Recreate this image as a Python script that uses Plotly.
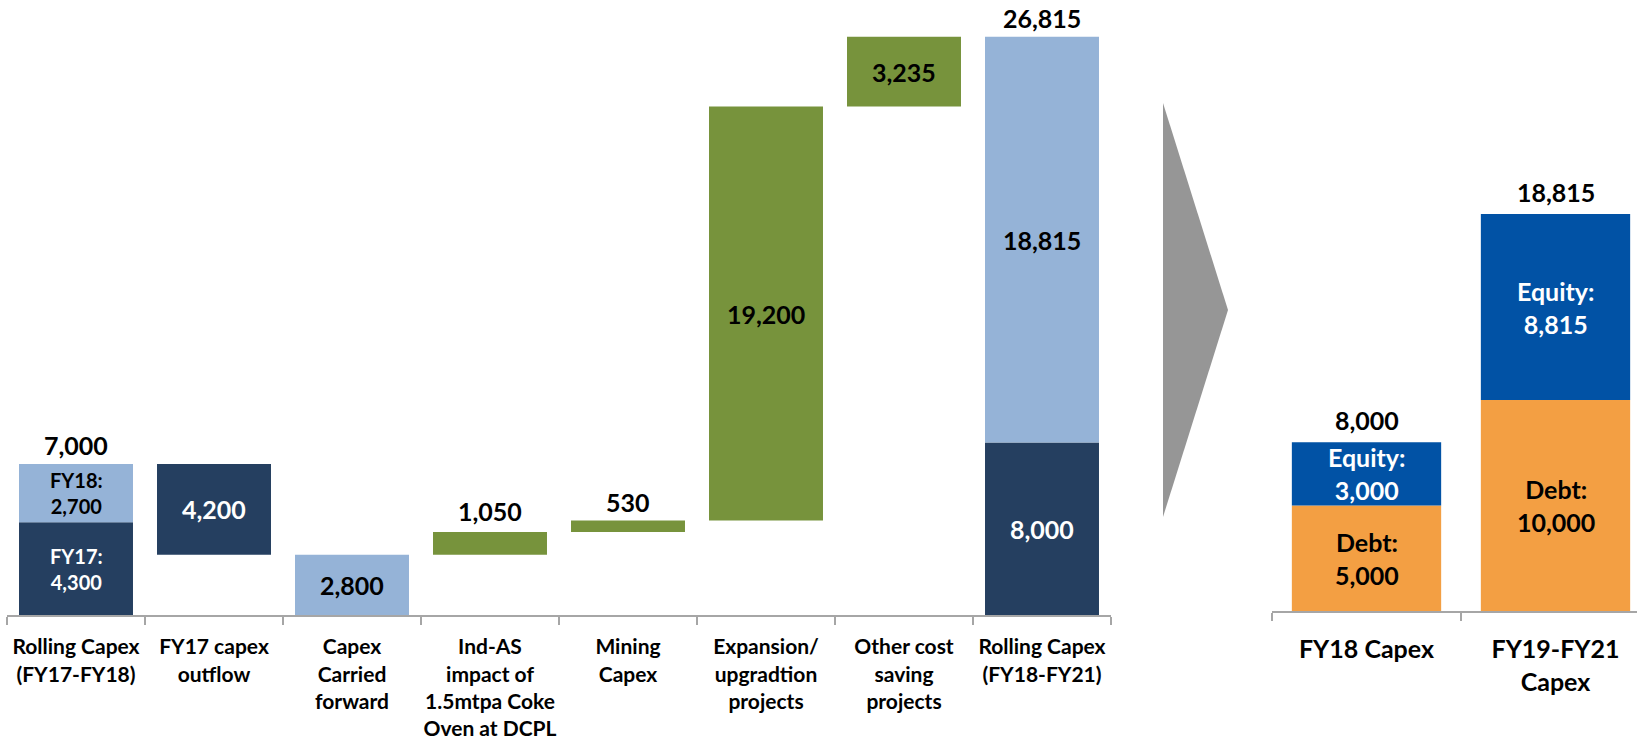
import plotly.graph_objects as go

# ---- Rolling capex bridge (left panel) ----
bridge_labels = [
    "Rolling Capex<br>(FY17-FY18)",
    "FY17 capex<br>outflow",
    "Capex<br>Carried<br>forward",
    "Ind-AS<br>impact of<br>1.5mtpa Coke<br>Oven at DCPL",
    "Mining<br>Capex",
    "Expansion/<br>upgradtion<br>projects",
    "Other cost<br>saving<br>projects",
    "Rolling Capex<br>(FY18-FY21)",
]
opening_fy17 = 4300
opening_fy18 = 2700
fy17_outflow = 4200
carried_forward = 2800
additions = [1050, 530, 19200, 3235]   # Ind-AS, Mining, Expansion, Other cost saving
closing_fy18 = 8000
closing_fy19_21 = 18815

# ---- Funding split (right panel) ----
funding_labels = ["FY18 Capex", "FY19-FY21<br>Capex"]
debt = [5000, 10000]
equity = [3000, 8815]

NAVY = "#253F60"
LIGHT = "#95B3D7"
GREEN = "#77933C"
BLUE = "#0152A5"
ORANGE = "#F39F43"
AXIS_GREY = "#A6A6A6"
FONT = "Lato"

W, H = 1637, 744


def fmt(v):
    return f"{v:,}"


opening_total = opening_fy17 + opening_fy18
outflow_base = opening_total - fy17_outflow
add_bases = []
running = carried_forward
for a in additions:
    add_bases.append(running)
    running += a
closing_total = closing_fy18 + closing_fy19_21

L = bridge_labels
fig = go.Figure()

bar_w = 0.826
fig.add_trace(go.Bar(
    x=[L[0], L[1], L[7]],
    y=[opening_fy17, fy17_outflow, closing_fy18],
    base=[0, outflow_base, 0],
    marker=dict(color=NAVY, line=dict(width=0)),
    width=bar_w, xaxis="x", yaxis="y", hoverinfo="skip",
))
fig.add_trace(go.Bar(
    x=[L[0], L[2], L[7]],
    y=[opening_fy18, carried_forward, closing_fy19_21],
    base=[opening_fy17, 0, closing_fy18],
    marker=dict(color=LIGHT, line=dict(width=0)),
    width=bar_w, xaxis="x", yaxis="y", hoverinfo="skip",
))
fig.add_trace(go.Bar(
    x=L[3:7],
    y=additions,
    base=add_bases,
    marker=dict(color=GREEN, line=dict(width=0)),
    width=bar_w, xaxis="x", yaxis="y", hoverinfo="skip",
))

# funding stacks
fig.add_trace(go.Bar(
    x=funding_labels, y=debt, base=[0, 0],
    marker=dict(color=ORANGE, line=dict(width=0)),
    width=0.79, xaxis="x2", yaxis="y2", hoverinfo="skip",
))
fig.add_trace(go.Bar(
    x=funding_labels, y=equity, base=debt,
    marker=dict(color=BLUE, line=dict(width=0)),
    width=0.79, xaxis="x2", yaxis="y2", hoverinfo="skip",
))

annotations = []


def label(x, y, text, size=25, color="black", above=False, axis="", yshift=0):
    annotations.append(dict(
        x=x, y=y, text=text, xref="x" + axis, yref="y" + axis,
        showarrow=False,
        yanchor="bottom" if above else "middle",
        yshift=yshift,
        font=dict(family=FONT, size=size, color=color, weight="bold"),
    ))


# left panel labels
label(L[0], opening_total, fmt(opening_total), above=True, yshift=2)
label(L[0], opening_fy17 + opening_fy18 / 2, f"FY18:<br>{fmt(opening_fy18)}", size=20)
label(L[0], opening_fy17 / 2, f"FY17:<br>{fmt(opening_fy17)}", size=20, color="white")
label(L[1], outflow_base + fy17_outflow / 2, fmt(fy17_outflow), color="white")
label(L[2], carried_forward / 2, fmt(carried_forward))
label(L[3], add_bases[0] + additions[0], fmt(additions[0]), above=True, yshift=4)
label(L[4], add_bases[1] + additions[1], fmt(additions[1]), above=True, yshift=2)
label(L[5], add_bases[2] + additions[2] / 2, fmt(additions[2]))
label(L[6], add_bases[3] + additions[3] / 2, fmt(additions[3]))
label(L[7], closing_total, fmt(closing_total), above=True, yshift=2)
label(L[7], closing_fy18 + closing_fy19_21 / 2, fmt(closing_fy19_21))
label(L[7], closing_fy18 / 2, fmt(closing_fy18), color="white")

# right panel labels
for cat, d, e in zip(funding_labels, debt, equity):
    label(cat, d + e, fmt(d + e), above=True, axis="2", yshift=5)
    label(cat, d + e / 2, f"Equity:<br>{fmt(e)}", color="white", axis="2")
    label(cat, d / 2, f"Debt:<br>{fmt(d)}", axis="2")

# grey chevron between the panels
ax0, ax1 = 1163, 1228
ay0, aym, ay1 = 103, 310, 517
arrow_path = (
    f"M {ax0 / W} {1 - ay0 / H} L {ax1 / W} {1 - aym / H} "
    f"L {ax0 / W} {1 - ay1 / H} Z"
)

axis_common = dict(
    type="category",
    tickson="boundaries",
    ticks="outside",
    ticklen=8,
    tickwidth=2,
    tickcolor=AXIS_GREY,
    showline=True,
    linecolor=AXIS_GREY,
    linewidth=2,
    showgrid=False,
    zeroline=False,
    fixedrange=True,
    tickangle=0,
    automargin=False,
)

left_px_per_unit = 0.02156
right_px_per_unit = 0.0211
left_axis_y = 615
right_axis_y = 611

fig.update_layout(
    width=W, height=H,
    margin=dict(l=0, r=0, t=0, b=0),
    paper_bgcolor="white",
    plot_bgcolor="white",
    showlegend=False,
    barmode="overlay",
    annotations=annotations,
    shapes=[dict(type="path", path=arrow_path, xref="paper", yref="paper",
                 fillcolor="#969696", line=dict(width=0), layer="below")],
    xaxis=dict(
        **axis_common,
        domain=[7 / W, 1111 / W],
        range=[-0.5, 7.5],
        categoryorder="array", categoryarray=bridge_labels,
        tickfont=dict(family=FONT, size=21, color="black", weight="bold"),
        ticklabelstandoff=12,
        anchor="y",
    ),
    yaxis=dict(
        domain=[(H - left_axis_y) / H, 1],
        range=[0, left_axis_y / left_px_per_unit],
        visible=False, fixedrange=True,
    ),
    xaxis2=dict(
        **axis_common,
        domain=[1272 / W, 1],
        range=[-0.5, -0.5 + (W - 1272) / 189],
        categoryorder="array", categoryarray=funding_labels,
        tickfont=dict(family=FONT, size=25, color="black", weight="bold"),
        ticklabelstandoff=15,
        anchor="y2",
    ),
    yaxis2=dict(
        domain=[(H - right_axis_y) / H, 1],
        range=[0, right_axis_y / right_px_per_unit],
        visible=False, fixedrange=True,
    ),
)

fig.write_html("out.html")
